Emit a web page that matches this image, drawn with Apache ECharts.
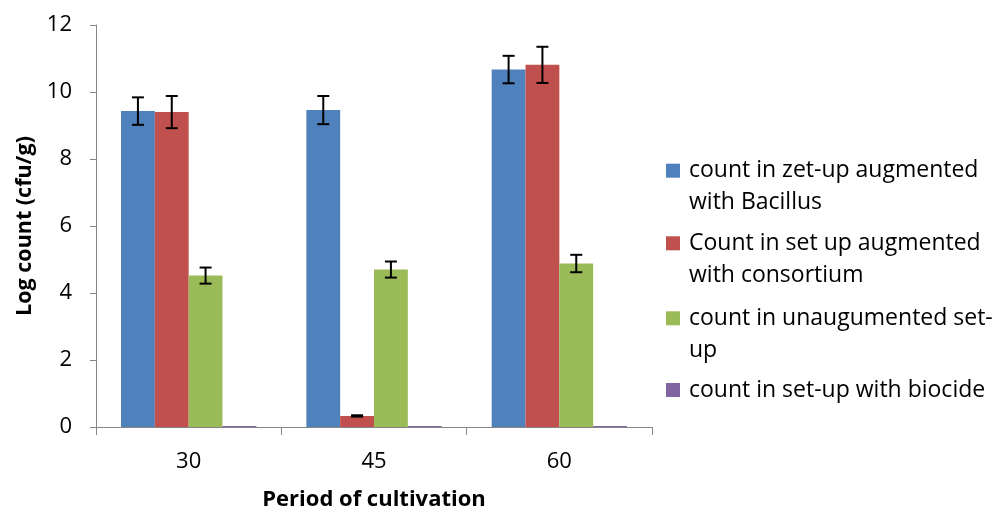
<!DOCTYPE html>
<html><head><meta charset="utf-8">
<script src="https://cdn.jsdelivr.net/npm/echarts@6/dist/echarts.min.js"></script>
<style>html,body{margin:0;padding:0;background:#fff}#c{width:995px;height:513px}</style>
</head><body><div id="c"></div>
<script>
const categories = ['30', '45', '60'];
const seriesNames = [
  'count in zet-up augmented\nwith Bacillus',
  'Count in set up augmented\nwith consortium',
  'count in unaugumented set-\nup',
  'count in set-up with biocide'
];
const bacillus = [9.43, 9.46, 10.67];
const consortium = [9.40, 0.33, 10.81];
const unaugmented = [4.52, 4.70, 4.88];
const biocide = [0.03, 0.03, 0.03];
const bacillusErr = [0.41, 0.42, 0.41];
const consortiumErr = [0.48, 0.02, 0.54];
const unaugmentedErr = [0.24, 0.24, 0.26];
const biocideErr = [0, 0, 0];
const yTicks = [0, 2, 4, 6, 8, 10, 12];
const colors = ['#4F81BD', '#C0504D', '#9BBB59', '#8064A2'];

const values = [bacillus, consortium, unaugmented, biocide];
const errs = [bacillusErr, consortiumErr, unaugmentedErr, biocideErr];
const font = 'Open Sans';
const catGap = 0.27;

const barSeries = values.map((v, i) => ({
  name: seriesNames[i], type: 'bar', data: v,
  barGap: '0%', barCategoryGap: '27%',
  itemStyle: { color: colors[i] }
}));

const errSeries = values.map((v, i) => ({
  type: 'custom', z: 10, silent: true,
  data: v.map((val, k) => [k, val - errs[i][k], val + errs[i][k], errs[i][k]]),
  renderItem: function (params, api) {
    if (api.value(3) <= 0) return null;
    const k = api.value(0);
    const lo = api.coord([k, api.value(1)]);
    const hi = api.coord([k, api.value(2)]);
    const cw = api.size([1, 0])[0];
    const bw = cw * (1 - catGap) / 4;
    const x = lo[0] + (i - 1.5) * bw;
    const cap = 6;
    const st = { stroke: '#000', lineWidth: 2 };
    return { type: 'group', children: [
      { type: 'line', shape: { x1: x, y1: lo[1], x2: x, y2: hi[1] }, style: st },
      { type: 'line', shape: { x1: x - cap, y1: lo[1], x2: x + cap, y2: lo[1] }, style: st },
      { type: 'line', shape: { x1: x - cap, y1: hi[1], x2: x + cap, y2: hi[1] }, style: st }
    ]};
  }
}));

const lineH = 32;
const legendTops = [122.7, 195.3, 270.3, 374];
const legends = seriesNames.map((n, i) => {
  const two = n.indexOf('\n') >= 0;
  return {
    left: 666, top: legendTops[i], orient: 'vertical', padding: 0,
    itemWidth: 14, itemHeight: 14, icon: 'rect', itemGap: 0,
    selectedMode: false,
    formatter: name => two ? '\n' + name : name,
    data: [{ name: n, itemStyle: { color: colors[i] } }],
    textStyle: { fontFamily: font, fontSize: 23, color: '#000', lineHeight: lineH, padding: [0, 0, 0, 4] }
  };
});

const chart = echarts.init(document.getElementById('c'), null, { renderer: 'canvas' });
chart.setOption({
  animation: false,
  backgroundColor: '#fff',
  grid: { left: 96, right: 343, top: 25, bottom: 86, containLabel: false, outerBoundsMode: 'none' },
  legend: legends,
  xAxis: {
    type: 'category', data: categories,
    name: 'Period of cultivation', nameLocation: 'middle', nameGap: 62,
    nameTextStyle: { fontFamily: font, fontSize: 22, fontWeight: 'bold', color: '#000' },
    axisLine: { lineStyle: { color: '#868686', width: 1 } },
    axisTick: { show: true, length: 8, alignWithLabel: false, lineStyle: { color: '#868686' } },
    axisLabel: { fontFamily: font, fontSize: 22, color: '#000', margin: 24 }
  },
  yAxis: {
    type: 'value', min: 0, max: 12, interval: 2,
    name: 'Log count (cfu/g)', nameLocation: 'middle', nameGap: 59,
    nameTextStyle: { fontFamily: font, fontSize: 21.5, fontWeight: 'bold', color: '#000' },
    axisLine: { show: true, lineStyle: { color: '#868686', width: 1 } },
    axisTick: { show: true, length: 6, lineStyle: { color: '#868686' } },
    splitLine: { show: false },
    axisLabel: { fontFamily: font, fontSize: 22, color: '#000', margin: 24,
      formatter: v => yTicks.includes(v) ? String(v) : '' }
  },
  series: barSeries.concat(errSeries)
});
</script></body></html>
